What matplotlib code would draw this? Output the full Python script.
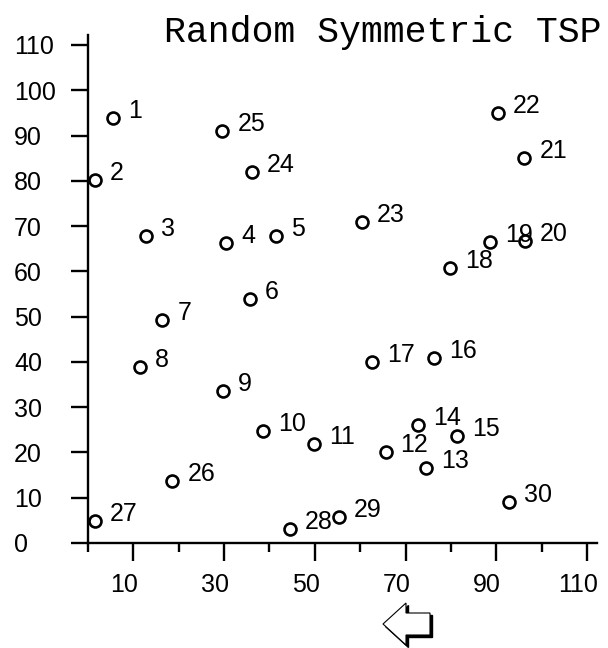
import matplotlib
matplotlib.use("Agg")
import matplotlib.pyplot as plt
from matplotlib.patches import Polygon
from matplotlib.transforms import ScaledTranslation

plt.rcParams['font.family'] = ['Liberation Sans', 'DejaVu Sans']

# City data
city_ids = list(range(1, 31))
city_x = [5.6, 1.5, 12.7, 30.4, 41.5, 35.6, 16.4, 11.5, 29.7, 38.5,
          49.8, 65.6, 74.5, 72.8, 81.4, 76.3, 62.7, 79.8, 88.6, 96.3,
          96.2, 90.3, 60.3, 36.1, 29.6, 18.6, 1.5, 44.5, 55.3, 92.7]
city_y = [93.8, 80.2, 67.9, 66.2, 67.8, 53.9, 49.3, 38.9, 33.6, 24.8,
          21.9, 20.0, 16.6, 26.1, 23.7, 40.8, 40.0, 60.8, 66.4, 66.6,
          85.0, 94.9, 70.8, 82.0, 91.0, 13.7, 4.9, 3.1, 5.8, 9.0]

x_major_ticks = [10, 30, 50, 70, 90, 110]
x_minor_ticks = [0, 20, 40, 60, 80, 100]
y_ticks = list(range(0, 111, 10))
title_text = "Random Symmetric TSP"

W, H = 608, 648
fig = plt.figure(figsize=(W / 100, H / 100), dpi=100)
ax = fig.add_axes([88 / W, (H - 543) / H, (597 - 88) / W, (543 - 35) / H])
ax.set_xlim(0, 112.2)
ax.set_ylim(0, 112.2)

ax.plot(city_x, city_y, 'o', mfc='none', mec='black', ms=8.6, mew=1.9,
        clip_on=False, zorder=3)
for i, x, y in zip(city_ids, city_x, city_y):
    ax.annotate(str(i), (x, y), xytext=(10.8, 0), textcoords='offset points',
                ha='left', va='baseline', fontsize=18, color='black')

for side in ['top', 'right']:
    ax.spines[side].set_visible(False)
for side in ['left', 'bottom']:
    ax.spines[side].set_linewidth(1.7)
    ax.spines[side].set_color('black')

ax.set_xticks(x_major_ticks)
ax.set_xticklabels([str(t) for t in x_major_ticks])
ax.set_xticks(x_minor_ticks, minor=True)
ax.set_yticks(y_ticks)
ax.set_yticklabels([str(t) for t in y_ticks])

ax.tick_params(axis='x', which='major', length=13, width=1.7, direction='out',
               pad=8.6, labelsize=18, colors='black')
ax.tick_params(axis='x', which='minor', length=6.5, width=1.7, direction='out')
ax.tick_params(axis='y', which='major', length=12.2, width=1.7, direction='out',
               pad=41, labelsize=18, colors='black')

for lab in ax.get_yticklabels():
    lab.set_horizontalalignment('left')
off = ScaledTranslation(-9 / 100, 0, fig.dpi_scale_trans)
for lab in ax.get_xticklabels():
    lab.set_transform(lab.get_transform() + off)

fig.text(383 / W, 1 - 42 / H, title_text, ha='center', va='baseline',
         fontsize=26.3, family=['Liberation Mono', 'DejaVu Sans Mono'],
         color='black')

# Left-pointing hollow arrow with shadow (decoration)
arrow_px = [(383, 624), (406, 603), (406, 613), (430, 613), (430, 635),
            (406, 635), (406, 645)]
def to_fig(pts, dx=0, dy=0):
    return [((px + dx) / W, 1 - (py + dy) / H) for px, py in pts]
shadow = Polygon(to_fig(arrow_px, 2.5, 2.5), closed=True, transform=fig.transFigure,
                 facecolor='black', edgecolor='black', lw=1.0)
front = Polygon(to_fig(arrow_px), closed=True, transform=fig.transFigure,
                facecolor='white', edgecolor='black', lw=0.8)
fig.patches.extend([shadow, front])

fig.savefig("out.png", dpi=100)
